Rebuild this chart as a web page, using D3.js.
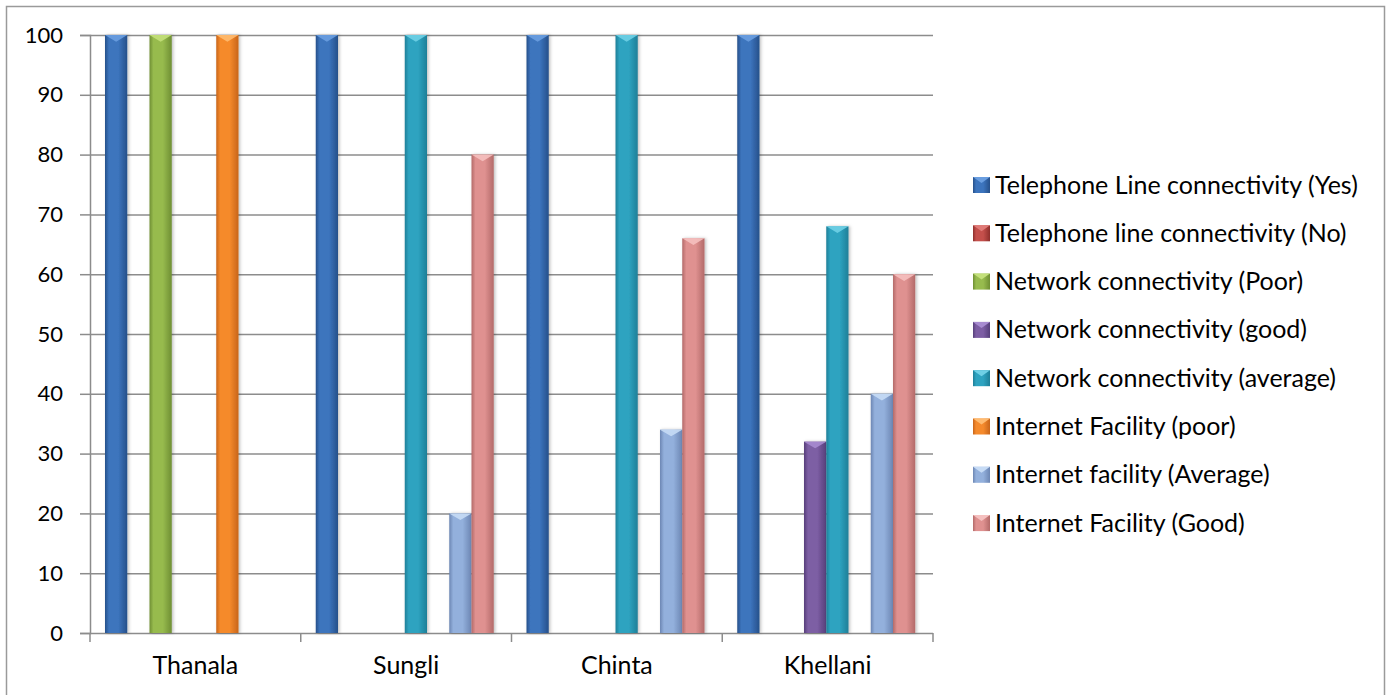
<!DOCTYPE html>
<html>
<head>
<meta charset="utf-8">
<script src="https://cdn.jsdelivr.net/npm/d3@7/dist/d3.min.js"></script>
<style>
  html, body { margin: 0; padding: 0; background: #fff; }
  svg { display: block; }
  text { font-family: Lato, "Liberation Sans", sans-serif; fill: #000; }
</style>
</head>
<body>
<script>
// Villages along the x axis
const villages = ["Thanala", "Sungli", "Chinta", "Khellani"];

// One entry per indicator, percentages per village
const seriesNames = [
  "Telephone Line connectivity (Yes)",
  "Telephone line connectivity (No)",
  "Network connectivity (Poor)",
  "Network connectivity (good)",
  "Network connectivity (average)",
  "Internet Facility (poor)",
  "Internet facility (Average)",
  "Internet Facility (Good)"
];
const telephoneYes   = [100, 100, 100, 100];
const telephoneNo    = [0, 0, 0, 0];
const networkPoor    = [100, 0, 0, 0];
const networkGood    = [0, 0, 0, 32];
const networkAverage = [0, 100, 100, 68];
const internetPoor   = [100, 0, 0, 0];
const internetAvg    = [0, 20, 34, 40];
const internetGood   = [0, 80, 66, 60];
const seriesValues = [telephoneYes, telephoneNo, networkPoor, networkGood,
                      networkAverage, internetPoor, internetAvg, internetGood];

const yTicks = [0, 10, 20, 30, 40, 50, 60, 70, 80, 90, 100];

// Fill colours: [edge, centre, top facet]
const palette = [
  ["#26508a", "#3c74bd", "#6a9ee0"],
  ["#8e2f2c", "#c44f4b", "#e07a77"],
  ["#6f8f33", "#97bb4e", "#c3e07a"],
  ["#563f7a", "#7d5ea4", "#a78bd0"],
  ["#1e7f98", "#2ea3c0", "#6fd0e6"],
  ["#c8651a", "#f58a2c", "#ffbb70"],
  ["#6c86b3", "#93b0dc", "#c6dbf5"],
  ["#b36a69", "#df9190", "#f5c0bf"]
];

const W = 1389, H = 695;
const plot = { left: 90, right: 933, top: 35, bottom: 633 };
const LABEL_FONT = 25;
const TICK_FONT = 22;

const svg = d3.select("body").append("svg")
  .attr("width", W).attr("height", H);

const defs = svg.append("defs");
palette.forEach((c, i) => {
  const g = defs.append("linearGradient")
    .attr("id", "bar-grad-" + i)
    .attr("x1", "0").attr("x2", "1").attr("y1", "0").attr("y2", "0");
  g.append("stop").attr("offset", "0").attr("stop-color", c[0]);
  g.append("stop").attr("offset", "0.18").attr("stop-color", c[1]);
  g.append("stop").attr("offset", "0.6").attr("stop-color", c[1]);
  g.append("stop").attr("offset", "1").attr("stop-color", c[0]);
});
const shadow = defs.append("filter").attr("id", "bar-shadow")
  .attr("x", "-30%").attr("y", "-5%").attr("width", "160%").attr("height", "110%");
shadow.append("feDropShadow").attr("dx", 1.5).attr("dy", 0).attr("stdDeviation", 1.5)
  .attr("flood-color", "#000").attr("flood-opacity", 0.25);

// Outer chart border
svg.append("rect")
  .attr("x", 6.5).attr("y", 6.5).attr("width", 1378).attr("height", 700)
  .attr("fill", "none").attr("stroke", "#9a9a9a").attr("stroke-width", 1.5);

const x0 = d3.scaleBand().domain(villages)
  .range([plot.left, plot.right]).paddingInner(0).paddingOuter(0);
// Bars in a group sit side by side, inset from the group's left edge
const barW = 22.25;
const clusterStart = 15;
const x1 = d3.scaleBand().domain(d3.range(seriesNames.length))
  .range([clusterStart, clusterStart + barW * seriesNames.length]).paddingInner(0).paddingOuter(0);
const y = d3.scaleLinear().domain([0, 100]).range([plot.bottom, plot.top]);

// Horizontal gridlines
svg.append("g").selectAll("line").data(yTicks.filter(t => t > 0)).join("line")
  .attr("x1", plot.left).attr("x2", plot.right)
  .attr("y1", d => y(d) + 0.5).attr("y2", d => y(d) + 0.5)
  .attr("stroke", "#8c8c8c").attr("stroke-width", 1.5);

// Y axis
const yAxis = d3.axisLeft(y).tickValues(yTicks).tickSize(10).tickPadding(17);
const gy = svg.append("g").attr("transform", `translate(${plot.left},0)`).call(yAxis);
gy.select(".domain").attr("stroke", "#8c8c8c").attr("stroke-width", 1.5);
gy.selectAll(".tick line").attr("stroke", "#8c8c8c").attr("stroke-width", 1.5);
gy.selectAll(".tick text").attr("font-size", TICK_FONT).attr("font-family", "Lato, sans-serif").attr("fill", "#000");

// X axis with ticks at category boundaries
const gx = svg.append("g").attr("transform", `translate(0,${plot.bottom})`);
gx.append("line").attr("x1", plot.left).attr("x2", plot.right)
  .attr("y1", 0.5).attr("y2", 0.5).attr("stroke", "#8c8c8c").attr("stroke-width", 1.5);
const boundaries = villages.map(v => x0(v)).concat([plot.right]);
gx.selectAll("line.tk").data(boundaries).join("line").attr("class", "tk")
  .attr("x1", d => d).attr("x2", d => d).attr("y1", 0).attr("y2", 9)
  .attr("stroke", "#8c8c8c").attr("stroke-width", 1.5);
gx.selectAll("text").data(villages).join("text")
  .attr("x", d => x0(d) + x0.bandwidth() / 2).attr("y", 41)
  .attr("text-anchor", "middle").attr("font-size", LABEL_FONT).text(d => d);

// Bars
const groups = svg.append("g").selectAll("g").data(villages).join("g")
  .attr("transform", d => `translate(${x0(d)},0)`);
groups.each(function(v, vi) {
  const g = d3.select(this);
  seriesValues.forEach((vals, si) => {
    const val = vals[vi];
    if (val <= 0) return;
    const bx = x1(si), bw = x1.bandwidth();
    const top = y(val);
    g.append("rect")
      .attr("x", bx).attr("y", top).attr("width", bw).attr("height", plot.bottom - top)
      .attr("fill", `url(#bar-grad-${si})`).attr("filter", "url(#bar-shadow)");
    // bevelled top facet
    g.append("path")
      .attr("d", `M${bx},${top} L${bx + bw},${top} L${bx + bw / 2},${top + bw * 0.3} Z`)
      .attr("fill", palette[si][2]).attr("opacity", 0.9);
  });
});

// Legend
const legend = svg.append("g").attr("transform", "translate(973,185)");
const items = legend.selectAll("g").data(seriesNames).join("g")
  .attr("transform", (d, i) => `translate(0,${i * 48.3})`);
items.append("rect").attr("x", 0).attr("y", -8).attr("width", 17).attr("height", 16)
  .attr("fill", (d, i) => `url(#bar-grad-${i})`);
items.append("path")
  .attr("d", "M0,-8 L17,-8 L8.5,-2 Z")
  .attr("fill", (d, i) => palette[i][2]);
items.append("text").attr("x", 22).attr("y", 8.5)
  .attr("font-size", LABEL_FONT).text(d => d);
</script>
</body>
</html>
